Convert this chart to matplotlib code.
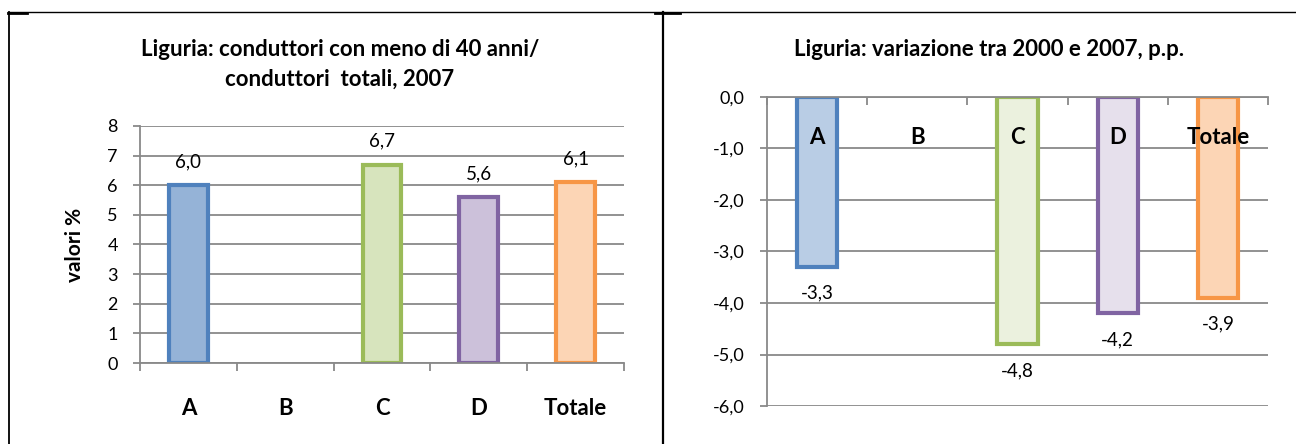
import numpy as np
import matplotlib
matplotlib.use("Agg")
import matplotlib.pyplot as plt
from matplotlib.lines import Line2D
from matplotlib.ticker import FixedLocator

plt.rcParams['font.family'] = ['Lato', 'DejaVu Sans']

# ---- data ----
categories = ['A', 'B', 'C', 'D', 'Totale']
share_2007 = [6.0, np.nan, 6.7, 5.6, 6.1]          # % conduttori < 40 anni / totali
change_2000_2007 = [-3.3, np.nan, -4.8, -4.2, -3.9]  # variazione p.p.

edge_colors = ['#4F81BD', '#4F81BD', '#9BBB59', '#8064A2', '#F79646']
fill_left = ['#95B3D7', '#95B3D7', '#D7E4BD', '#CCC1DA', '#FCD5B5']
fill_right = ['#B9CDE5', '#B9CDE5', '#EBF1DE', '#E6E0EC', '#FCD5B5']

W, H = 1296, 444
fig = plt.figure(figsize=(W / 100, H / 100), dpi=100)

def px_axes(x0, x1, ytop, ybot):
    return fig.add_axes([x0 / W, 1 - ybot / H, (x1 - x0) / W, (ybot - ytop) / H])

grid_col = '#898989'
fmt = lambda v: f"{v:.1f}".replace('.', ',')
x = np.arange(len(categories))

TICK_FS = 13
DATA_FS = 13.5
CAT_FS = 16
TITLE_FS = 16

# ---------------- left chart ----------------
ax1 = px_axes(140, 624, 126, 363)
ax1.set_xlim(-0.5, len(categories) - 0.5)
ax1.set_ylim(0, 8)
ax1.set_yticks(range(0, 9))
ax1.yaxis.grid(True, color=grid_col, linewidth=1.3, zorder=0)
ax1.set_axisbelow(True)
for s in ['top', 'right']:
    ax1.spines[s].set_visible(False)
for s in ['left', 'bottom']:
    ax1.spines[s].set_color(grid_col)
    ax1.spines[s].set_linewidth(1.3)
ax1.tick_params(axis='y', colors=grid_col, length=5, width=1.3, pad=11,
                labelsize=TICK_FS, labelcolor='black')
ax1.set_xticks(x)
ax1.set_xticklabels(categories, fontsize=CAT_FS, fontweight='bold')
ax1.tick_params(axis='x', which='major', length=0, pad=25)
ax1.xaxis.set_minor_locator(FixedLocator(np.arange(-0.5, len(categories), 1.0)))
ax1.tick_params(axis='x', which='minor', length=5.5, width=1.3, color=grid_col)

bars1 = ax1.bar(x, share_2007, width=0.40, color=fill_left, edgecolor=edge_colors,
                linewidth=3.0, zorder=2)
for xi, v in zip(x, share_2007):
    if not np.isnan(v):
        ax1.annotate(fmt(v), xy=(xi, v), xytext=(0, 17), textcoords='offset points',
                     ha='center', va='center', fontsize=DATA_FS)
ax1.set_ylabel('valori %', fontsize=15, fontweight='bold', labelpad=16)

fig.text(340 / W, 1 - 49 / H, 'Liguria: conduttori con meno di 40 anni/',
         ha='center', va='center', fontsize=TITLE_FS, fontweight='bold')
fig.text(340 / W, 1 - 79 / H, 'conduttori  totali, 2007',
         ha='center', va='center', fontsize=TITLE_FS, fontweight='bold')

# ---------------- right chart ----------------
ax2 = px_axes(767, 1268, 97, 406)
ax2.set_xlim(-0.5, len(categories) - 0.5)
ax2.set_ylim(-6, 0)
ax2.set_yticks(range(-6, 1))
ax2.set_yticklabels([fmt(v) for v in range(-6, 1)])
ax2.yaxis.grid(True, color=grid_col, linewidth=1.3, zorder=0)
ax2.set_axisbelow(True)
for s in ['bottom', 'right']:
    ax2.spines[s].set_visible(False)
for s in ['left', 'top']:
    ax2.spines[s].set_color(grid_col)
    ax2.spines[s].set_linewidth(1.3)
ax2.tick_params(axis='y', colors=grid_col, length=5, width=1.3, pad=11,
                labelsize=TICK_FS, labelcolor='black')
ax2.set_xticks([])
ax2.xaxis.set_ticks_position('top')
ax2.xaxis.set_minor_locator(FixedLocator(np.arange(-0.5, len(categories), 1.0)))
ax2.tick_params(axis='x', which='minor', direction='in', length=5.5, width=1.3,
                color=grid_col, top=True, bottom=False)

bars2 = ax2.bar(x, change_2000_2007, width=0.40, color=fill_right, edgecolor=edge_colors,
                linewidth=3.0, zorder=2)
for xi, v in zip(x, change_2000_2007):
    if not np.isnan(v):
        ax2.annotate(fmt(v), xy=(xi, v), xytext=(0, -19), textcoords='offset points',
                     ha='center', va='center', fontsize=DATA_FS)
for xi, c in zip(x, categories):
    ax2.annotate(c, xy=(xi, 0), xytext=(0, -29.5), textcoords='offset points',
                 ha='center', va='center', fontsize=CAT_FS, fontweight='bold', zorder=5)

fig.text(989 / W, 1 - 49 / H, 'Liguria: variazione tra 2000 e 2007, p.p.',
         ha='center', va='center', fontsize=TITLE_FS, fontweight='bold')

# ---------------- frame lines ----------------
def fline(x0, y0, x1, y1, lw):
    fig.add_artist(Line2D([x0 / W, x1 / W], [1 - y0 / H, 1 - y1 / H],
                          color='black', linewidth=lw, transform=fig.transFigure))

fline(8, 12.5, W, 12.5, 1.0)
fline(8.5, 12, 8.5, H, 1.3)
fline(662.7, 12, 662.7, H, 1.6)
fline(8, 13, 27, 13, 2.0)
fline(655, 13, 680, 13, 2.0)

fig.savefig('out.png', dpi=100)
